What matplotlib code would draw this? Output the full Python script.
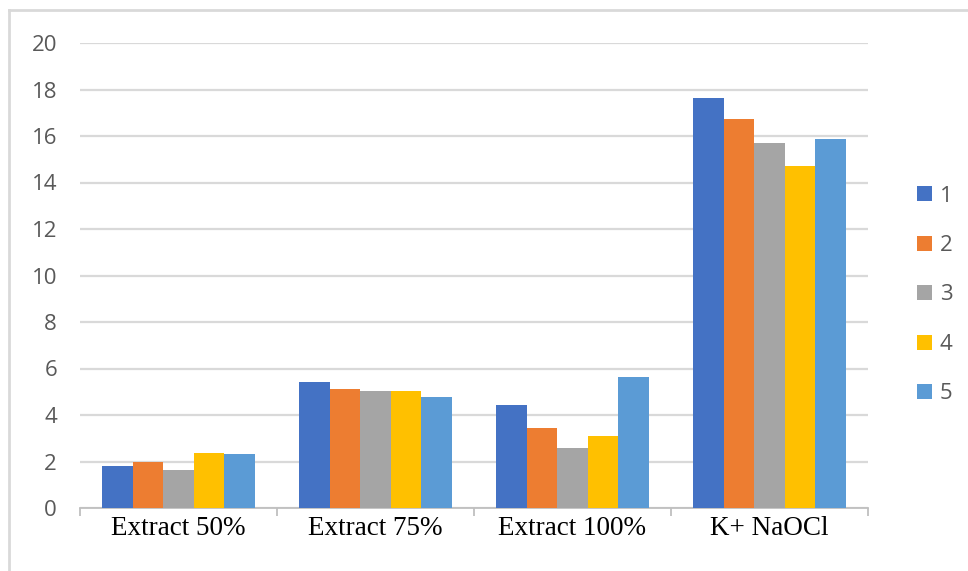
import matplotlib
matplotlib.use("Agg")
import matplotlib.pyplot as plt
from matplotlib.lines import Line2D
import numpy as np

categories = ["Extract 50%", "Extract 75%", "Extract 100%", "K+ NaOCl"]
series_names = ["1", "2", "3", "4", "5"]
series_1 = [1.80, 5.40, 4.42, 17.62]
series_2 = [2.00, 5.10, 3.44, 16.72]
series_3 = [1.62, 5.02, 2.60, 15.70]
series_4 = [2.37, 5.04, 3.08, 14.73]
series_5 = [2.32, 4.79, 5.62, 15.86]
y_ticks = [0, 2, 4, 6, 8, 10, 12, 14, 16, 18, 20]

colors = ["#4472C4", "#ED7D31", "#A5A5A5", "#FFC000", "#5B9BD5"]
series = [series_1, series_2, series_3, series_4, series_5]

W, H = 968, 571
fig = plt.figure(figsize=(W / 100, H / 100), dpi=100)
fig.patch.set_facecolor("white")

# plot area in pixel coordinates
left, right, top, bottom = 80, 868, 43, 508
ax = fig.add_axes([left / W, 1 - bottom / H, (right - left) / W, (bottom - top) / H])

x = np.arange(len(categories))
bar_w = 0.155
offsets = (np.arange(len(series)) - 2) * bar_w
handles = []
for vals, off, c, name in zip(series, offsets, colors, series_names):
    b = ax.bar(x + off, vals, width=bar_w, color=c, label=name, zorder=3,
               linewidth=0)
    handles.append(b)

ax.set_xlim(-0.5, len(categories) - 0.5)
ax.set_ylim(0, 20)
ax.set_yticks(y_ticks)
ax.set_yticklabels([str(t) for t in y_ticks], family="Open Sans", fontsize=16,
                   color="#595959")
ax.tick_params(axis="y", length=0, pad=16.5)
ax.yaxis.grid(True, color="#D9D9D9", linewidth=1.6, zorder=0)
ax.set_axisbelow(True)

# category labels centred under each group, tick marks at group boundaries
ax.set_xticks(x)
ax.set_xticklabels(categories, family="Liberation Serif", fontsize=19.5,
                   color="black")
ax.tick_params(axis="x", which="major", length=0, pad=6)
ax.set_xticks(np.arange(len(categories) + 1) - 0.5, minor=True)
ax.tick_params(axis="x", which="minor", length=6, width=1.3, color="#BFBFBF")

for s in ["top", "right", "left"]:
    ax.spines[s].set_visible(False)
ax.spines["bottom"].set_color("#BFBFBF")
ax.spines["bottom"].set_linewidth(1.3)

leg = fig.legend(handles=handles, labels=series_names, loc="center left",
                 bbox_to_anchor=(906 / W, 1 - 295 / H), frameon=False,
                 prop={"family": "Open Sans", "size": 16}, labelcolor="#595959",
                 handlelength=0.68, handleheight=0.68, handletextpad=0.35,
                 labelspacing=1.28, borderpad=0)

# outer frame of the chart
frame_c = "#D9D9D9"
fig.add_artist(Line2D([9 / W, 1], [1 - 10 / H, 1 - 10 / H], color=frame_c,
                      linewidth=2, transform=fig.transFigure))
fig.add_artist(Line2D([9 / W, 9 / W], [0, 1 - 10 / H], color=frame_c,
                      linewidth=2, transform=fig.transFigure))

fig.savefig("out.png", dpi=100)
